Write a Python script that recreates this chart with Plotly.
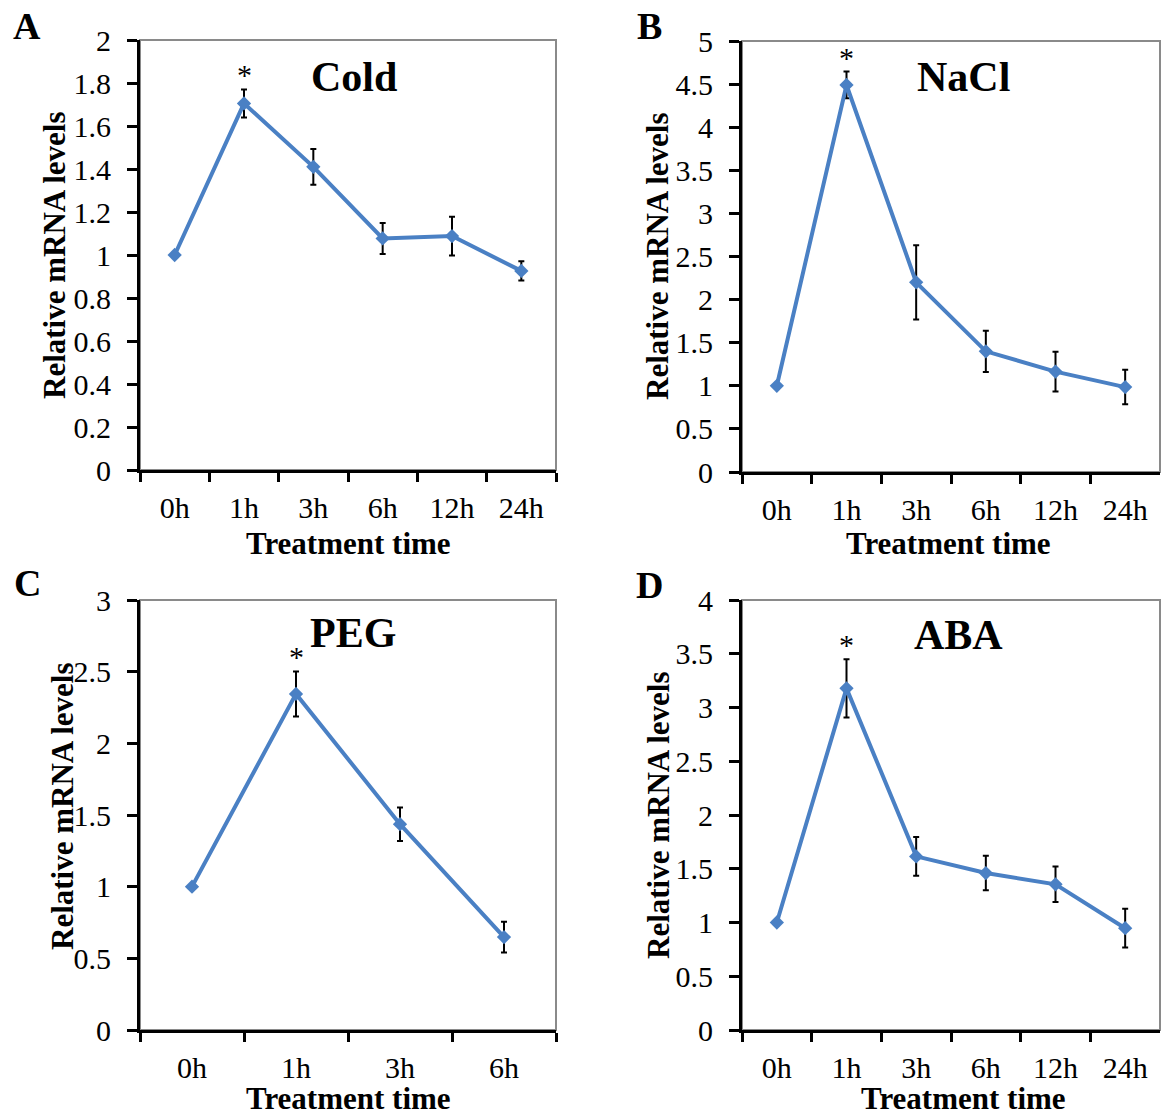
import plotly.graph_objects as go

W, H = 1168, 1116

# ---- data ----
times6 = ["0h", "1h", "3h", "6h", "12h", "24h"]
times4 = ["0h", "1h", "3h", "6h"]

cold_vals = [1.0, 1.705, 1.41, 1.077, 1.088, 0.926]
cold_err = [0.0, 0.065, 0.083, 0.072, 0.09, 0.045]

nacl_vals = [1.0, 4.49, 2.2, 1.40, 1.165, 0.985]
nacl_err = [0.0, 0.155, 0.43, 0.24, 0.23, 0.20]

peg_vals = [1.0, 2.345, 1.436, 0.648]
peg_err = [0.0, 0.157, 0.117, 0.108]

aba_vals = [1.0, 3.178, 1.615, 1.46, 1.355, 0.947]
aba_err = [0.0, 0.27, 0.18, 0.16, 0.165, 0.18]

cold_ticks = [0, 0.2, 0.4, 0.6, 0.8, 1, 1.2, 1.4, 1.6, 1.8, 2]
cold_ticktext = ["0", "0.2", "0.4", "0.6", "0.8", "1", "1.2", "1.4", "1.6", "1.8", "2"]
nacl_ticks = [0, 0.5, 1, 1.5, 2, 2.5, 3, 3.5, 4, 4.5, 5]
nacl_ticktext = ["0", "0.5", "1", "1.5", "2", "2.5", "3", "3.5", "4", "4.5", "5"]
peg_ticks = [0, 0.5, 1, 1.5, 2, 2.5, 3]
peg_ticktext = ["0", "0.5", "1", "1.5", "2", "2.5", "3"]
aba_ticks = [0, 0.5, 1, 1.5, 2, 2.5, 3, 3.5, 4]
aba_ticktext = ["0", "0.5", "1", "1.5", "2", "2.5", "3", "3.5", "4"]

panel_letters = ["A", "B", "C", "D"]
panel_titles = ["Cold", "NaCl", "PEG", "ABA"]
y_title = "Relative mRNA levels"
x_title = "Treatment time"

# ---- layout helpers ----
FONT = "Liberation Serif"
LINE_COLOR = "#4A80C4"


def px_x(p):
    return p / W


def px_y(p):
    return 1 - p / H


panels = [
    dict(cats=times6, vals=cold_vals, err=cold_err, ticks=cold_ticks, ticktext=cold_ticktext,
         box=(140, 556, 40, 470)),
    dict(cats=times6, vals=nacl_vals, err=nacl_err, ticks=nacl_ticks, ticktext=nacl_ticktext,
         box=(742, 1160, 41, 472)),
    dict(cats=times4, vals=peg_vals, err=peg_err, ticks=peg_ticks, ticktext=peg_ticktext,
         box=(140, 556, 600, 1030)),
    dict(cats=times6, vals=aba_vals, err=aba_err, ticks=aba_ticks, ticktext=aba_ticktext,
         box=(742, 1160, 600, 1030)),
]

letter_pos = [(27, 26), (650, 26), (27, 583), (650, 585)]
title_pos = [(354, 77), (963, 77), (353, 633), (958, 635)]
ytitle_pos = [(54, 255), (658, 256), (62, 806), (658, 815)]
xtitle_pos = [(348, 543), (948, 543), (348, 1098), (963, 1098)]

fig = go.Figure()
annotations = []
shapes = []

for i, p in enumerate(panels):
    n = i + 1
    xa = "x" if n == 1 else f"x{n}"
    ya = "y" if n == 1 else f"y{n}"
    x0, x1, y0, y1 = p["box"]
    fig.add_trace(go.Scatter(
        x=p["cats"], y=p["vals"], xaxis=xa, yaxis=ya,
        mode="lines+markers",
        line=dict(color=LINE_COLOR, width=4),
        marker=dict(symbol="diamond", size=11, color=LINE_COLOR),
        error_y=dict(type="data", array=p["err"], visible=True,
                     color="black", thickness=2, width=3),
        showlegend=False, hoverinfo="skip",
    ))
    xkey = "xaxis" if n == 1 else f"xaxis{n}"
    ykey = "yaxis" if n == 1 else f"yaxis{n}"
    fig.update_layout(**{
        xkey: dict(
            domain=[px_x(x0), px_x(x1)], anchor=ya, automargin=False,
            type="category", categoryorder="array", categoryarray=p["cats"],
            range=[-0.5, len(p["cats"]) - 0.5],
            showline=True, linecolor="black", linewidth=3,
            ticks="outside", tickson="boundaries", ticklen=9, tickwidth=3, tickcolor="black",
            showgrid=False, zeroline=False,
            tickfont=dict(family=FONT, size=30, color="black"),
            ticklabelstandoff=9, fixedrange=True,
        ),
        ykey: dict(
            domain=[px_y(y1), px_y(y0)], anchor=xa, automargin=False,
            range=[0, p["ticks"][-1]],
            tickvals=p["ticks"], ticktext=p["ticktext"],
            showline=True, linecolor="black", linewidth=3,
            ticks="outside", ticklen=10, tickwidth=3, tickcolor="black",
            showgrid=False, zeroline=False,
            tickfont=dict(family=FONT, size=30, color="black"),
            ticklabelstandoff=10, fixedrange=True,
        ),
    })
    # grey frame (top/right)
    shapes.append(dict(type="rect", xref=f"{xa} domain", yref=f"{ya} domain",
                       x0=0, x1=1, y0=0, y1=1, line=dict(color="#8a8a8a", width=2),
                       layer="below"))
    common = dict(xref="paper", yref="paper", showarrow=False,
                  xanchor="center", yanchor="middle")
    lx, ly = letter_pos[i]
    annotations.append(dict(text=f"<b>{panel_letters[i]}</b>", x=px_x(lx), y=px_y(ly),
                            font=dict(family=FONT, size=38, color="black"), **common))
    tx, ty = title_pos[i]
    annotations.append(dict(text=f"<b>{panel_titles[i]}</b>", x=px_x(tx), y=px_y(ty),
                            font=dict(family=FONT, size=42, color="black"), **common))
    yx, yy = ytitle_pos[i]
    annotations.append(dict(text=f"<b>{y_title}</b>", x=px_x(yx), y=px_y(yy), textangle=-90,
                            font=dict(family=FONT, size=31, color="black"), **common))
    xx, xy = xtitle_pos[i]
    annotations.append(dict(text=f"<b>{x_title}</b>", x=px_x(xx), y=px_y(xy),
                            font=dict(family=FONT, size=31, color="black"), **common))
    # significance asterisk above the 1h point
    annotations.append(dict(text="*", x="1h", y=p["vals"][1] + p["err"][1],
                            xref=xa, yref=ya, showarrow=False,
                            xanchor="center", yanchor="bottom", yshift=-4,
                            font=dict(family=FONT, size=30, color="black")))

fig.update_layout(
    width=W, height=H, autosize=False,
    margin=dict(l=0, r=0, t=0, b=0, pad=0, autoexpand=False),
    paper_bgcolor="white", plot_bgcolor="white",
    annotations=annotations, shapes=shapes,
)

fig.write_html(
    "out.html",
    config={"displayModeBar": False},
    post_script="document.body.style.margin='0';document.body.style.padding='0';",
)
